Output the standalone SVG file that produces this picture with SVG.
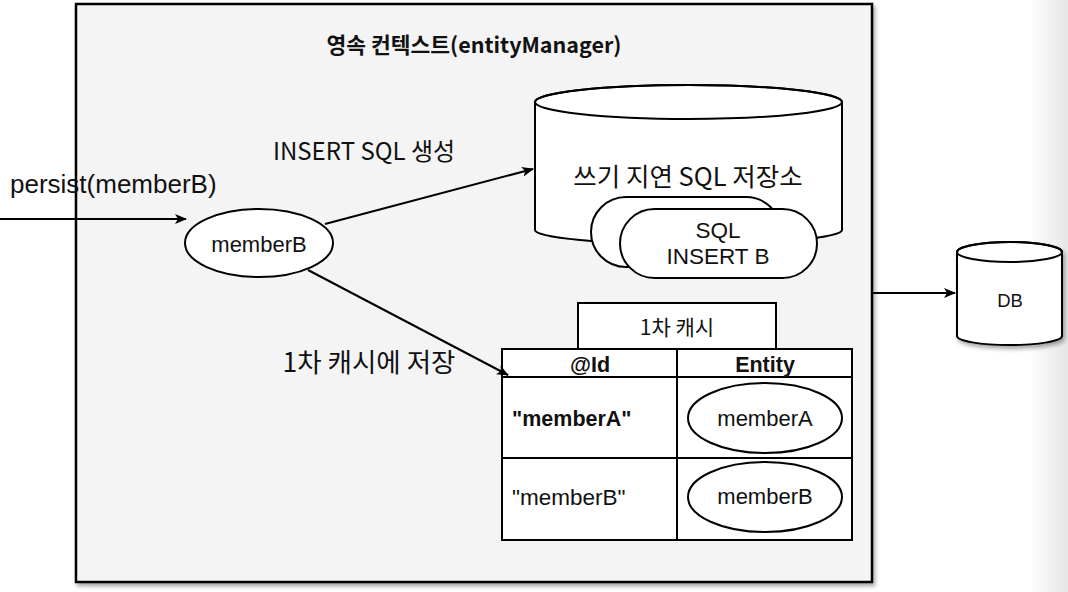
<svg xmlns="http://www.w3.org/2000/svg" width="1068" height="592" viewBox="0 0 1068 592">
<defs>
<linearGradient id="edge" x1="0" y1="0" x2="1" y2="0">
<stop offset="0" stop-color="#ffffff"/>
<stop offset="1" stop-color="#e6e6e6"/>
</linearGradient>
<filter id="sh" x="-10%" y="-10%" width="130%" height="130%">
<feDropShadow dx="2" dy="3" stdDeviation="2" flood-color="#000" flood-opacity="0.35"/>
</filter>
<marker id="arr" viewBox="0 0 12 10" refX="11" refY="5" markerWidth="12" markerHeight="10" markerUnits="userSpaceOnUse" orient="auto">
<path d="M0,0 L12,5 L0,10 L3,5 Z" fill="#000"/>
</marker>
<style>
.ln{stroke:#000;stroke-width:2;fill:none}
.shape{fill:#fff;stroke:#000;stroke-width:2}
.t{font-family:"Liberation Sans",Arial,sans-serif;fill:#111}
.k{font-family:"Noto Sans CJK KR","Liberation Sans",sans-serif;fill:#111}
</style>
</defs>
<rect x="0" y="0" width="1068" height="592" fill="#fff"/>
<rect x="1030" y="0" width="38" height="592" fill="url(#edge)"/>

<g id="context">
<rect x="76" y="4" width="796" height="578" fill="#f4f4f4" stroke="#000" stroke-width="2.5" filter="url(#sh)"/>
<text class="k" x="474" y="53" font-size="21.5" font-weight="bold" text-anchor="middle">영속 컨텍스트(entityManager)</text>
</g>

<g id="persist-label">
<text class="t" x="10" y="193" font-size="26">persist(memberB)</text>
</g>

<g id="memberB">
<ellipse class="shape" cx="259" cy="243" rx="74" ry="34"/>
<text class="t" x="259" y="252" font-size="22" text-anchor="middle">memberB</text>
</g>

<g id="write-store">
<path class="shape" d="M535,102 L535,230 A153.5,14 0 0 0 842,230 L842,102 A153.5,17 0 0 0 535,102 Z"/>
<ellipse cx="688.5" cy="102" rx="153.5" ry="17" fill="none" stroke="#000" stroke-width="2"/>
<text class="k" x="688" y="186" font-size="25.5" text-anchor="middle">쓰기 지연 SQL 저장소</text>
</g>

<g id="sql-back">
<rect class="shape" x="591" y="197" width="190" height="70" rx="35" ry="35"/>
</g>
<g id="sql-insert-b">
<rect class="shape" x="620" y="209" width="197" height="69" rx="34.5" ry="34.5"/>
<text class="t" x="718" y="238" font-size="22.5" text-anchor="middle">SQL</text>
<text class="t" x="718" y="264" font-size="22.5" text-anchor="middle">INSERT B</text>
</g>

<g id="cache-label">
<rect class="shape" x="578" y="303" width="198" height="46"/>
<text class="k" x="677" y="335" font-size="21" text-anchor="middle">1차 캐시</text>
</g>

<g id="cache-table">
<rect class="shape" x="502" y="349" width="350" height="191"/>
<line class="ln" x1="677" y1="349" x2="677" y2="540"/>
<line class="ln" x1="502" y1="377" x2="852" y2="377"/>
<line class="ln" x1="502" y1="458" x2="852" y2="458"/>
<text class="t" x="590" y="372" font-size="21.5" font-weight="bold" text-anchor="middle">@Id</text>
<text class="t" x="765" y="372" font-size="21.5" font-weight="bold" text-anchor="middle">Entity</text>
<text class="t" x="512" y="426" font-size="21.5" font-weight="bold">"memberA"</text>
<text class="t" x="512" y="505" font-size="22.5">"memberB"</text>
</g>

<g id="entity-memberA">
<ellipse class="shape" cx="765" cy="418" rx="77" ry="35"/>
<text class="t" x="765" y="426" font-size="22" text-anchor="middle">memberA</text>
</g>
<g id="entity-memberB">
<ellipse class="shape" cx="765" cy="497" rx="77" ry="35"/>
<text class="t" x="765" y="504" font-size="22" text-anchor="middle">memberB</text>
</g>

<g id="db">
<path class="shape" d="M957,252 L957,336 A52.5,9 0 0 0 1062,336 L1062,252 A52.5,10 0 0 0 957,252 Z" filter="url(#sh)"/>
<ellipse cx="1009.5" cy="252" rx="52.5" ry="10" fill="none" stroke="#000" stroke-width="2"/>
<text class="t" x="1010" y="307" font-size="18.5" text-anchor="middle">DB</text>
</g>

<g id="connectors">
<line class="ln" x1="0" y1="219" x2="186" y2="219" marker-end="url(#arr)"/>
<line class="ln" x1="325" y1="224" x2="533" y2="169" marker-end="url(#arr)"/>
<line class="ln" x1="308" y1="270" x2="508" y2="375" marker-end="url(#arr)"/>
<line class="ln" x1="872" y1="293" x2="955" y2="293" marker-end="url(#arr)"/>
<text class="k" x="364" y="160" font-size="24" text-anchor="middle">INSERT SQL 생성</text>
<text class="k" x="369" y="372" font-size="26.5" text-anchor="middle">1차 캐시에 저장</text>
</g>
</svg>
